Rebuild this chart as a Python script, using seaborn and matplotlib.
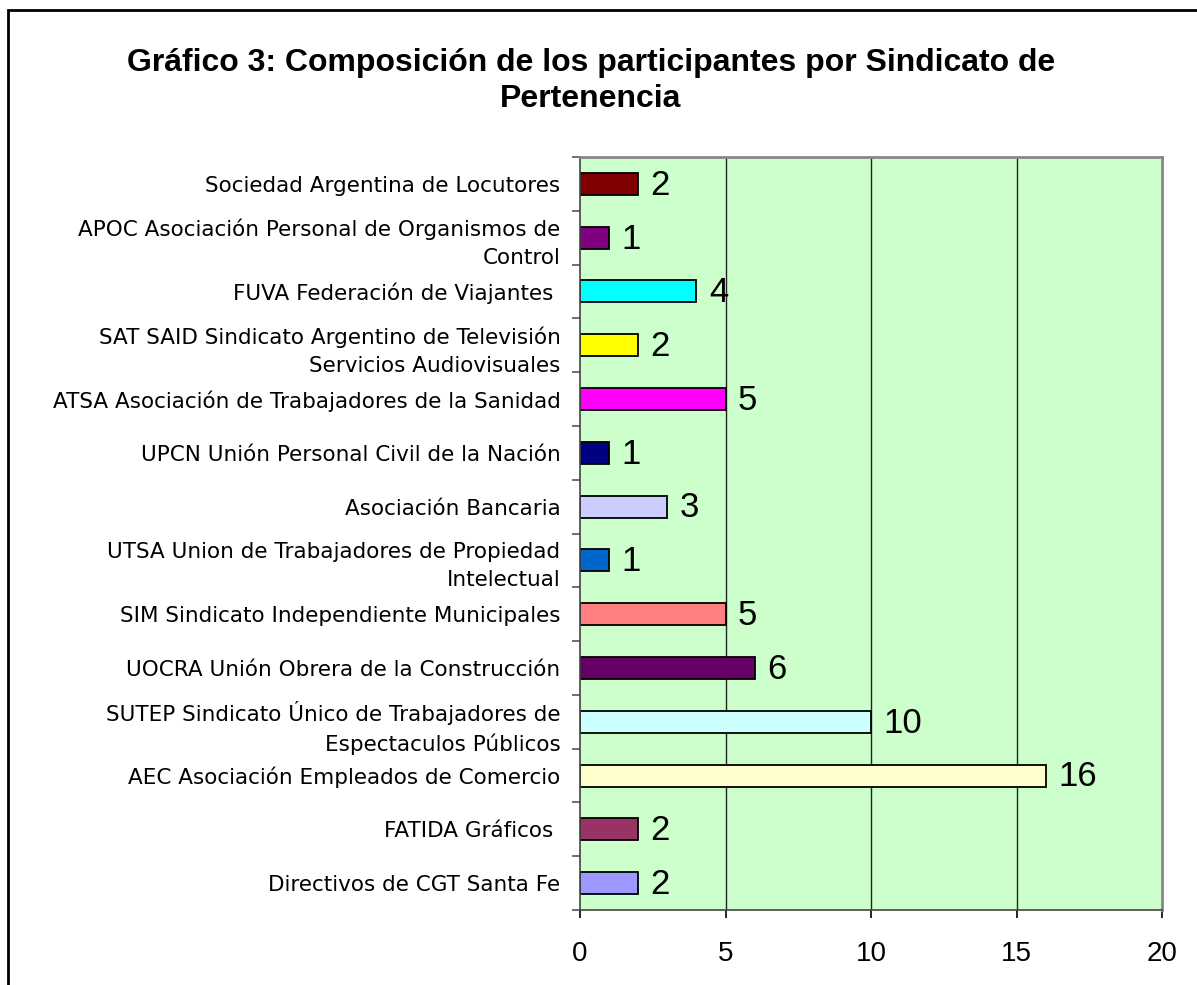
import matplotlib
matplotlib.use("Agg")
import matplotlib.pyplot as plt
import matplotlib.patches as patches
from matplotlib.ticker import FixedLocator
import seaborn as sns
import pandas as pd

# Data (top to bottom)
sindicatos = [
    "Sociedad Argentina de Locutores",
    "APOC Asociación Personal de Organismos de\nControl",
    "FUVA Federación de Viajantes ",
    "SAT SAID Sindicato Argentino de Televisión\nServicios Audiovisuales",
    "ATSA Asociación de Trabajadores de la Sanidad",
    "UPCN Unión Personal Civil de la Nación",
    "Asociación Bancaria",
    "UTSA Union de Trabajadores de Propiedad\nIntelectual",
    "SIM Sindicato Independiente Municipales",
    "UOCRA Unión Obrera de la Construcción",
    "SUTEP Sindicato Único de Trabajadores de\nEspectaculos Públicos",
    "AEC Asociación Empleados de Comercio",
    "FATIDA Gráficos ",
    "Directivos de CGT Santa Fe",
]
participantes = [2, 1, 4, 2, 5, 1, 3, 1, 5, 6, 10, 16, 2, 2]
colores = [
    "#800000", "#800080", "#00FFFF", "#FFFF00", "#FF00FF", "#000080", "#CCCCFF",
    "#0066CC", "#FF8080", "#660066", "#CCFFFF", "#FFFFCC", "#993366", "#9999FF",
]
x_ticks = [0, 5, 10, 15, 20]

df = pd.DataFrame({"sindicato": sindicatos, "n": participantes})

sns.set_style("white")
plt.rcParams["font.family"] = ["Liberation Sans", "DejaVu Sans"]
plt.rcParams["text.color"] = "black"
plt.rcParams["xtick.color"] = "black"
plt.rcParams["ytick.color"] = "black"

fig = plt.figure(figsize=(11.97, 9.85), dpi=100)
ax = fig.add_axes([580 / 1197, 1 - 910 / 985, (1162 - 580) / 1197, (910 - 157) / 985])

sns.barplot(
    data=df, y="sindicato", x="n", hue="sindicato", palette=colores,
    orient="h", width=0.41, edgecolor="black", linewidth=1.3, saturation=1,
    legend=False, dodge=False, ax=ax,
)

ax.set_facecolor("#CCFFCC")
ax.set_xlim(0, 20)
ax.set_ylim(len(sindicatos) - 0.5, -0.5)
ax.set_xticks(x_ticks)
ax.set_xticklabels([str(t) for t in x_ticks], fontsize=20)
ax.set_xlabel("")
ax.set_ylabel("")

# vertical grid lines
for t in x_ticks[1:-1]:
    ax.axvline(t, color="#222222", linewidth=1.0, zorder=0)

# category labels
ax.set_yticks(range(len(sindicatos)))
ax.set_yticklabels(sindicatos, fontsize=15.5, family=["DejaVu Sans"],
                   linespacing=1.5)
ax.tick_params(axis="y", which="major", length=0, pad=14)
ax.yaxis.set_minor_locator(FixedLocator([i + 0.5 for i in range(-1, len(sindicatos))]))
ax.tick_params(axis="y", which="minor", length=6, color="#555555", width=1.2, left=True)
ax.tick_params(axis="x", which="major", length=6, color="black", width=1.2, pad=16, bottom=True)

for side in ["top", "right"]:
    ax.spines[side].set_color("#888888")
    ax.spines[side].set_linewidth(2)
for side in ["left", "bottom"]:
    ax.spines[side].set_color("#444444")
    ax.spines[side].set_linewidth(1.2)

# value labels
for i, v in enumerate(participantes):
    ax.annotate(str(v), xy=(v, i), xytext=(9, -1), textcoords="offset points",
                va="center", ha="left", fontsize=25)

fig.text(591 / 1197, 1 - 81 / 985,
         "Gráfico 3: Composición de los participantes por Sindicato de\nPertenencia",
         ha="center", va="center", fontsize=23, fontweight="bold", linespacing=1.3)

# outer chart frame (cropped on right and bottom)
fig.patches.append(patches.Rectangle(
    (8 / 1197, -0.1), 1.2, 1 - 10 / 985 + 0.1, transform=fig.transFigure,
    fill=False, edgecolor="black", linewidth=2, clip_on=False))

fig.savefig("out.png", dpi=100)
